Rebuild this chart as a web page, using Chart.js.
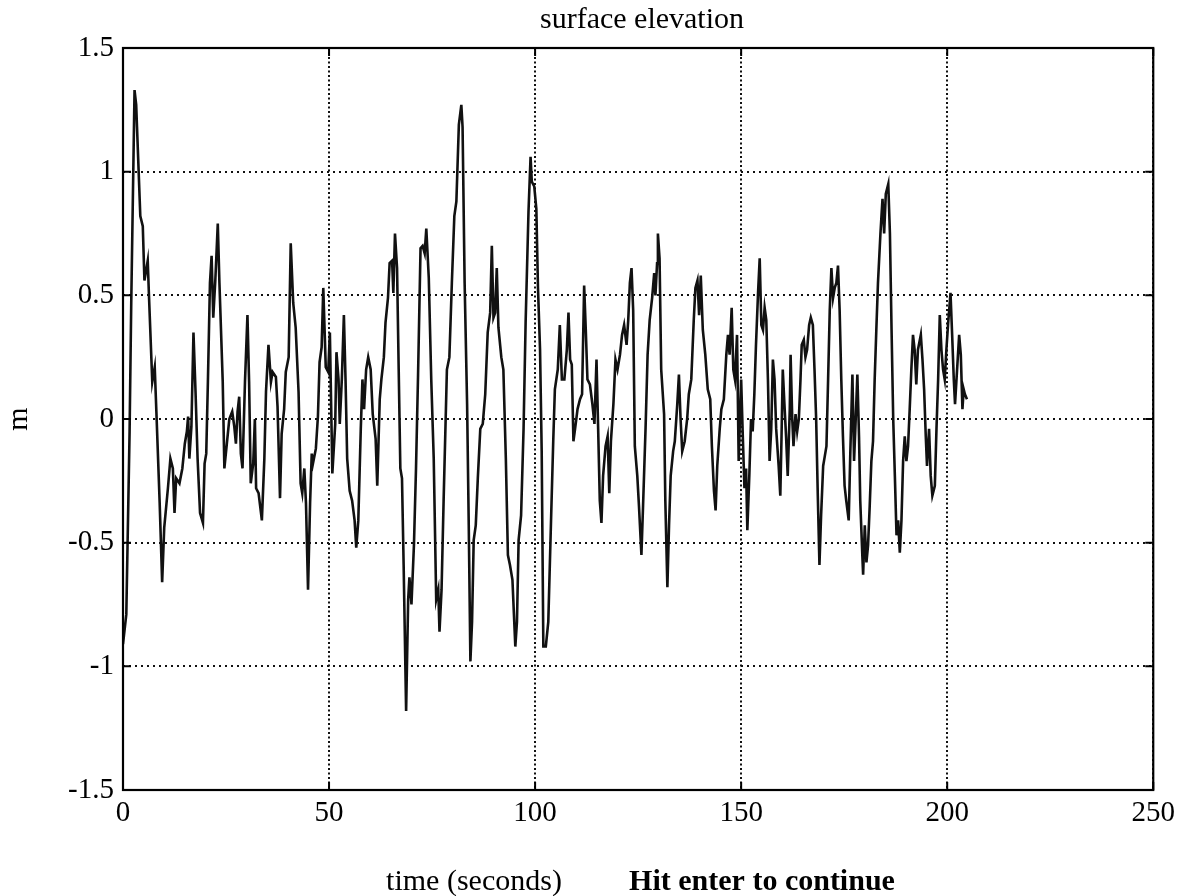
<!DOCTYPE html>
<html>
<head>
<meta charset="utf-8">
<title>surface elevation</title>
<script src="https://cdn.jsdelivr.net/npm/chart.js@4.4.0/dist/chart.umd.min.js"></script>
<style>
  html, body { margin: 0; padding: 0; background: #fff; }
  #wrap { width: 1181px; height: 896px; }
</style>
</head>
<body>
<div id="wrap"><canvas id="elev" width="1181" height="896"></canvas></div>
<script>
// time axis (seconds)
const timeSec = [
  0, 0.8, 1.6, 2.0, 2.8, 3.2, 3.4, 4.2, 4.8, 5.2,
  6.0, 6.3, 7.1, 7.7, 8.1, 8.9, 9.5, 10.0, 10.9, 11.5,
  12.1, 12.5, 12.9, 13.7, 14.4, 15.0, 15.5, 15.8, 16.1, 16.6,
  17.1, 17.6, 18.1, 18.7, 19.4, 19.8, 20.2, 20.6, 21.1, 21.5,
  21.9, 22.4, 23.0, 23.4, 24.2, 24.6, 25.2, 25.8, 26.5, 27.0,
  27.4, 27.8, 28.2, 28.6, 29.0, 29.6, 30.2, 30.6, 31.0, 31.6,
  32.0, 32.3, 32.9, 33.7, 34.3, 34.7, 35.3, 35.9, 36.3, 37.1,
  37.5, 38.1, 38.5, 39.1, 39.5, 40.2, 40.7, 41.3, 41.9, 42.6,
  43.1, 43.5, 44.0, 44.4, 44.9, 45.4, 45.8, 46.1, 46.8, 47.3,
  47.7, 48.2, 48.6, 49.2, 49.8, 50.2, 50.8, 51.5, 51.8, 52.3,
  52.6, 53.1, 53.6, 54.0, 54.4, 55.0, 55.6, 56.2, 56.6, 57.1,
  57.7, 58.1, 58.5, 59.0, 59.5, 60.1, 60.6, 61.3, 61.7, 62.3,
  62.7, 63.3, 63.7, 64.3, 64.7, 65.3, 65.6, 66.0, 66.5, 66.9,
  67.3, 67.7, 68.1, 68.7, 69.2, 69.5, 70.0, 70.6, 71.1, 71.6,
  72.2, 72.7, 73.2, 73.6, 74.2, 74.8, 75.4, 76.0, 76.5, 76.8,
  77.3, 77.8, 78.6, 79.2, 79.8, 80.4, 80.9, 81.5, 82.1, 82.4,
  82.9, 83.5, 83.9, 84.3, 84.7, 85.1, 85.6, 86.1, 86.7, 87.3,
  87.9, 88.5, 89.1, 89.5, 89.9, 90.3, 90.7, 91.1, 91.8, 92.3,
  92.9, 93.4, 93.9, 94.5, 95.2, 95.6, 96.0, 96.6, 97.2, 97.7,
  98.4, 98.9, 99.2, 99.8, 100.3, 100.7, 101.2, 101.6, 102.0, 102.6,
  103.2, 103.9, 104.4, 104.8, 105.5, 106.0, 106.5, 107.1, 107.7, 108.1,
  108.5, 108.9, 109.3, 109.7, 110.3, 110.9, 111.4, 111.9, 112.3, 112.7,
  113.3, 113.9, 114.4, 114.9, 115.3, 115.7, 116.1, 116.5, 117.1, 117.6,
  118.0, 118.4, 119.0, 119.5, 120.0, 120.6, 121.1, 121.6, 122.2, 122.6,
  123.0, 123.4, 123.8, 124.2, 124.8, 125.2, 125.8, 126.2, 126.8, 127.3,
  127.8, 128.4, 128.9, 129.2, 129.6, 129.8, 130.2, 130.6, 131.3, 131.6,
  132.1, 132.5, 132.9, 133.5, 133.9, 134.5, 134.9, 135.3, 135.7, 136.3,
  136.9, 137.3, 137.9, 138.5, 138.9, 139.4, 139.8, 140.2, 140.7, 141.3,
  141.9, 142.5, 142.9, 143.4, 143.8, 144.2, 144.8, 145.2, 145.8, 146.4,
  146.8, 147.2, 147.7, 148.1, 148.5, 149.0, 149.4, 150.0, 150.4, 150.8,
  151.2, 151.5, 152.0, 152.4, 152.8, 153.2, 153.6, 154.1, 154.5, 154.9,
  155.3, 155.7, 156.1, 156.5, 156.9, 157.3, 157.7, 158.1, 158.5, 159.1,
  159.5, 159.8, 160.1, 160.5, 160.9, 161.3, 161.8, 162.0, 162.4, 162.7,
  163.2, 163.6, 164.0, 164.4, 164.7, 165.2, 165.6, 166.0, 166.5, 166.9,
  167.4, 167.8, 168.2, 168.6, 169.0, 169.4, 169.9, 170.3, 170.7, 171.1,
  171.5, 171.9, 172.3, 172.7, 173.1, 173.5, 173.9, 174.3, 174.7, 175.1,
  175.5, 176.1, 176.5, 177.0, 177.4, 177.8, 178.2, 178.6, 178.9, 179.4,
  179.6, 180.0, 180.4, 180.8, 181.2, 181.6, 182.0, 182.4, 182.8, 183.2,
  183.8, 184.3, 184.7, 185.1, 185.7, 186.1, 186.5, 186.9, 187.3, 187.7,
  188.1, 188.5, 188.9, 189.3, 189.7, 190.1, 190.5, 190.9, 191.3, 191.7,
  192.1, 192.5, 192.9, 193.6, 194.0, 194.4, 194.8, 195.1, 195.6, 196.0,
  196.4, 197.0, 197.4, 197.8, 198.2, 198.6, 199.0, 199.4, 199.8, 200.2,
  200.8, 201.2, 201.6, 201.9, 202.4, 202.9, 203.3, 203.7, 204.0, 204.3, 204.8
];

// surface elevation (m)
const elevation = [
  -0.91, -0.79, -0.05, 0.47, 1.33, 1.27, 1.18, 0.82, 0.78, 0.56,
  0.64, 0.5, 0.15, 0.21, 0.03, -0.34, -0.66, -0.44, -0.28, -0.16,
  -0.2, -0.38, -0.24, -0.26, -0.2, -0.1, -0.05, 0.01, -0.16, -0.03,
  0.35, 0.11, -0.16, -0.38, -0.42, -0.18, -0.14, 0.15, 0.55, 0.66,
  0.41, 0.56, 0.79, 0.55, 0.15, -0.2, -0.1, 0, 0.03, -0.03,
  -0.1, 0.03, 0.09, -0.14, -0.2, 0.15, 0.42, 0.15, -0.26, -0.18,
  0, -0.28, -0.3, -0.41, -0.16, 0.11, 0.3, 0.15, 0.19, 0.17,
  0.05, -0.32, -0.06, 0.04, 0.19, 0.25, 0.71, 0.47, 0.37, 0.11,
  -0.26, -0.3, -0.2, -0.34, -0.69, -0.34, -0.14, -0.18, -0.12, 0.01,
  0.23, 0.29, 0.53, 0.21, 0.19, 0.35, -0.22, -0.02, 0.27, 0.16,
  -0.02, 0.16, 0.42, 0.16, -0.16, -0.29, -0.33, -0.41, -0.52, -0.41,
  -0.04, 0.16, 0.04, 0.2, 0.25, 0.2, 0.02, -0.08, -0.27, 0.08,
  0.16, 0.25, 0.39, 0.49, 0.63, 0.64, 0.51, 0.75, 0.61, 0.2,
  -0.2, -0.24, -0.59, -1.18, -0.73, -0.64, -0.75, -0.51, -0.2, 0.18,
  0.69, 0.7, 0.67, 0.77, 0.57, 0.16, -0.16, -0.73, -0.69, -0.86,
  -0.69, -0.33, 0.2, 0.25, 0.55, 0.82, 0.88, 1.19, 1.27, 1.18,
  0.55, 0.06, -0.43, -0.98, -0.82, -0.49, -0.43, -0.24, -0.04, -0.02,
  0.1, 0.35, 0.43, 0.7, 0.41, 0.43, 0.61, 0.37, 0.25, 0.2,
  -0.16, -0.55, -0.59, -0.65, -0.92, -0.82, -0.49, -0.39, -0.04, 0.39,
  0.84, 1.06, 0.96, 0.94, 0.85, 0.53, 0.28, -0.13, -0.92, -0.92,
  -0.82, -0.39, -0.09, 0.12, 0.2, 0.38, 0.16, 0.16, 0.28, 0.43,
  0.24, 0.22, -0.09, -0.04, 0.04, 0.08, 0.1, 0.54, 0.36, 0.16,
  0.14, 0.06, -0.02, 0.24, -0.04, -0.33, -0.42, -0.23, -0.11, -0.07,
  -0.3, -0.09, 0.06, 0.24, 0.2, 0.26, 0.34, 0.38, 0.3, 0.4,
  0.55, 0.61, 0.44, -0.11, -0.23, -0.35, -0.55, -0.35, -0.04, 0.26,
  0.4, 0.49, 0.59, 0.5, 0.63, 0.75, 0.65, 0.2, 0.02, -0.33,
  -0.68, -0.43, -0.23, -0.13, -0.09, 0.06, 0.18, 0, -0.13, -0.09,
  0, 0.1, 0.16, 0.4, 0.53, 0.56, 0.42, 0.58, 0.36, 0.26,
  0.12, 0.08, -0.11, -0.29, -0.37, -0.19, -0.04, 0.04, 0.08, 0.26,
  0.34, 0.26, 0.45, 0.2, 0.16, 0.34, -0.17, 0.16, -0.07, -0.28,
  -0.2, -0.45, -0.22, 0, -0.05, 0.1, 0.3, 0.51, 0.65, 0.38,
  0.36, 0.45, 0.4, 0.16, -0.17, -0.04, 0.24, 0.16, -0.04, -0.19,
  -0.31, -0.07, 0.2, 0.06, -0.07, -0.23, 0.04, 0.26, 0, -0.11,
  0.02, -0.05, 0, 0.16, 0.3, 0.32, 0.25, 0.28, 0.38, 0.41,
  0.38, 0.2, 0, -0.31, -0.59, -0.39, -0.19, -0.15, -0.11, 0.16,
  0.44, 0.61, 0.49, 0.53, 0.55, 0.62, 0.44, 0.16, -0.07, -0.27,
  -0.33, -0.41, -0.13, 0.18, -0.17, 0, 0.18, -0.07, -0.33, -0.55,
  -0.63, -0.43, -0.58, -0.51, -0.35, -0.17, -0.09, 0.16, 0.36, 0.55,
  0.75, 0.89, 0.75, 0.91, 0.95, 0.75, 0.36, 0, -0.23, -0.47,
  -0.41, -0.54, -0.41, -0.17, -0.07, -0.17, -0.11, 0.04, 0.2, 0.34,
  0.28, 0.14, 0.28, 0.34, 0.24, 0.12, -0.07, -0.19, -0.04, -0.23,
  -0.31, -0.27, -0.04, 0.16, 0.42, 0.28, 0.2, 0.16, 0.28, 0.38,
  0.51, 0.34, 0.16, 0.06, 0.2, 0.34, 0.26, 0.04, 0.12, 0.1, 0.08
];

const xTicks = [0, 50, 100, 150, 200, 250];
const yTicks = [-1.5, -1, -0.5, 0, 0.5, 1, 1.5];

const titleText = 'surface elevation';
const xLabel = 'time (seconds)';
const yLabel = 'm';
const hintText = 'Hit enter to continue';

const serif = '"Liberation Serif", "Times New Roman", serif';

// box, inner ticks and the texts, MATLAB style
const matlabFrame = {
  id: 'matlabFrame',
  afterDraw(chart) {
    const ctx = chart.ctx;
    const a = chart.chartArea;
    const xs = chart.scales.x, ys = chart.scales.y;
    ctx.save();
    ctx.strokeStyle = '#000';
    ctx.lineWidth = 2.2;
    ctx.setLineDash([]);
    ctx.strokeRect(a.left, a.top, a.right - a.left, a.bottom - a.top);

    const tl = 8;
    ctx.lineWidth = 2;
    ctx.beginPath();
    xTicks.forEach(v => {
      const px = xs.getPixelForValue(v);
      ctx.moveTo(px, a.bottom); ctx.lineTo(px, a.bottom - tl);
      ctx.moveTo(px, a.top); ctx.lineTo(px, a.top + tl);
    });
    yTicks.forEach(v => {
      const py = ys.getPixelForValue(v);
      ctx.moveTo(a.left, py); ctx.lineTo(a.left + tl, py);
      ctx.moveTo(a.right, py); ctx.lineTo(a.right - tl, py);
    });
    ctx.stroke();

    ctx.fillStyle = '#000';
    ctx.textAlign = 'center';
    ctx.textBaseline = 'middle';
    ctx.font = '30px ' + serif;
    ctx.fillText(titleText, 642, 20);
    ctx.fillText(xLabel, 474, 882);

    ctx.font = 'bold 30px ' + serif;
    ctx.fillText(hintText, 762, 882);

    ctx.font = '30px ' + serif;
    ctx.translate(19, ys.getPixelForValue(0));
    ctx.rotate(-Math.PI / 2);
    ctx.fillText(yLabel, 0, 0);
    ctx.restore();
  }
};

const points = timeSec.map((t, i) => ({ x: t, y: elevation[i] }));

const ctx = document.getElementById('elev').getContext('2d');
new Chart(ctx, {
  type: 'line',
  data: {
    datasets: [{
      label: 'surface elevation',
      data: points,
      borderColor: '#111',
      borderWidth: 2.6,
      pointRadius: 0,
      tension: 0,
      fill: false
    }]
  },
  options: {
    responsive: false,
    animation: false,
    layout: { padding: { top: 48, right: 24, left: 0, bottom: 0 } },
    plugins: {
      legend: { display: false },
      tooltip: { enabled: false }
    },
    scales: {
      x: {
        type: 'linear',
        min: 0,
        max: 250,
        afterBuildTicks: (scale) => { scale.ticks = xTicks.map(v => ({ value: v })); },
        afterFit: (scale) => { scale.height = 106; },
        ticks: {
          color: '#000',
          padding: 6,
          maxRotation: 0,
          font: { family: serif, size: 29 },
          callback: (v) => String(v)
        },
        grid: {
          color: '#111',
          lineWidth: 2,
          drawTicks: false
        },
        border: { display: false, dash: [2, 2.5] }
      },
      y: {
        type: 'linear',
        min: -1.5,
        max: 1.5,
        afterBuildTicks: (scale) => { scale.ticks = yTicks.map(v => ({ value: v })); },
        afterFit: (scale) => { scale.width = 123; },
        ticks: {
          color: '#000',
          padding: 9,
          font: { family: serif, size: 29 },
          callback: (v) => String(v)
        },
        grid: {
          color: '#111',
          lineWidth: 2,
          drawTicks: false
        },
        border: { display: false, dash: [2, 4] }
      }
    }
  },
  plugins: [matlabFrame]
});
</script>
</body>
</html>
